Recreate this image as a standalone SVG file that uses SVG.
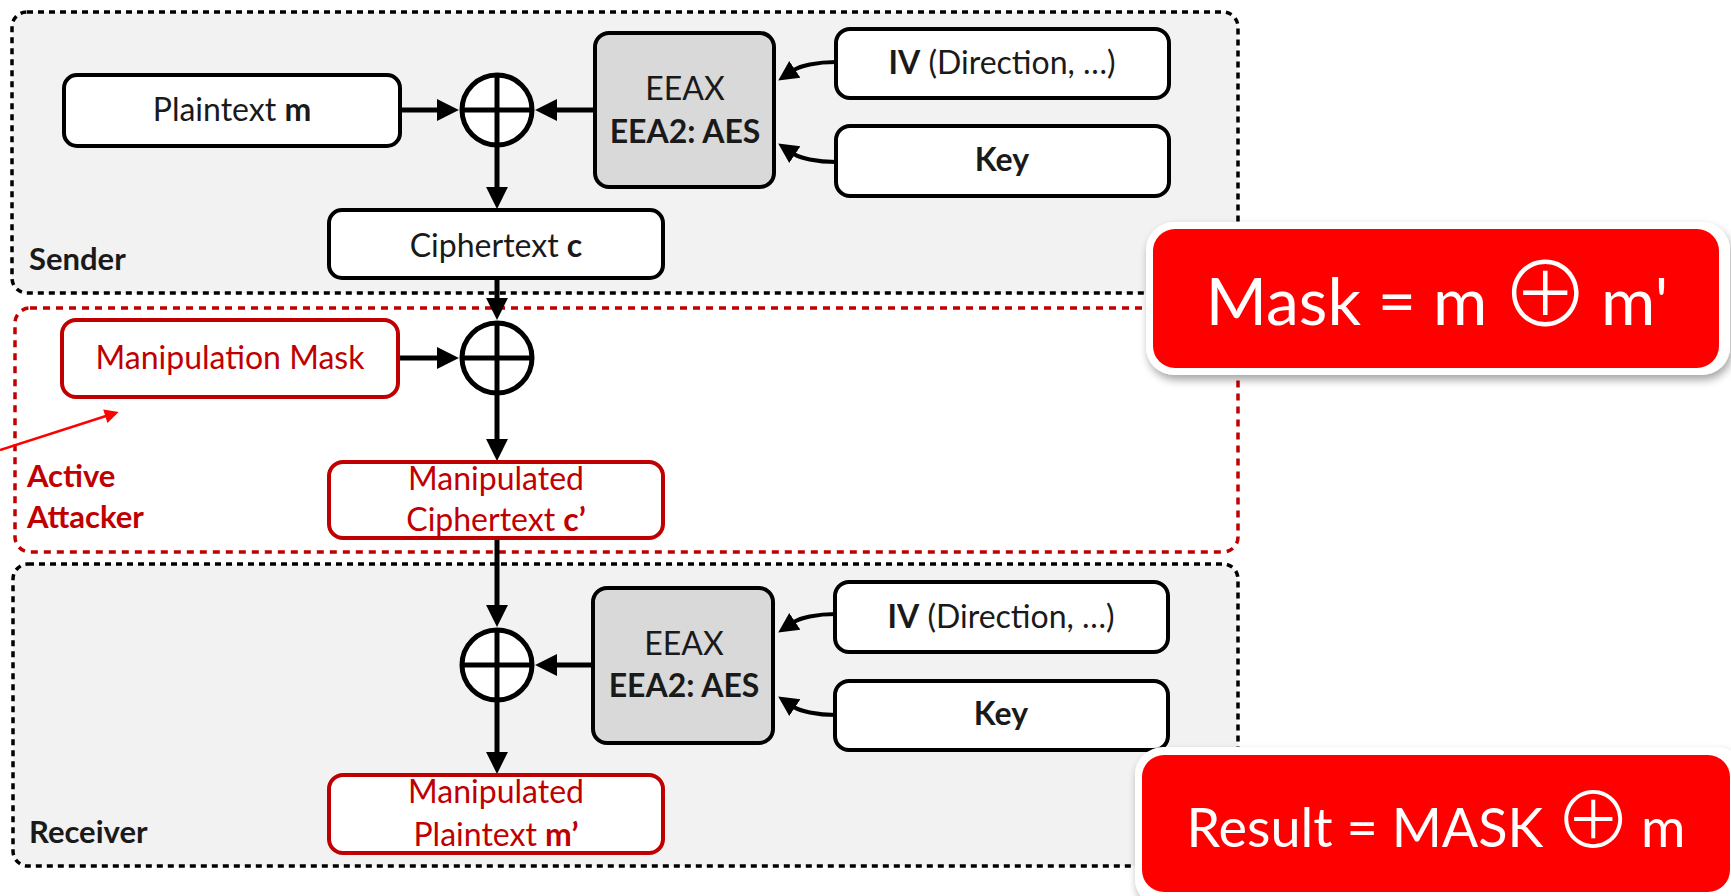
<svg xmlns="http://www.w3.org/2000/svg" width="1731" height="896" viewBox="0 0 1731 896">
  <style>
    text { font-family: Lato, "DejaVu Sans", sans-serif; fill: #1a1a1a; }
    .t { font-size: 32px; text-anchor: middle; }
    .b { font-weight: bold; }
    .lab { font-size: 31px; font-weight: bold; }
    .red { fill: #c00000; }
    .box { fill: #ffffff; stroke: #000000; stroke-width: 4; }
    .rbox { fill: #ffffff; stroke: #c00000; stroke-width: 4; }
    .alg { fill: #d9d9d9; stroke: #000000; stroke-width: 4; }
    .zone { fill: #f2f2f2; stroke: #000000; stroke-width: 3.5; stroke-dasharray: 6 5; }
    .zone-red { fill: #ffffff; stroke: #c00000; stroke-width: 3.5; stroke-dasharray: 7 6; }
    .xor { fill: #ffffff; stroke: #000000; stroke-width: 5; }
    .xl { stroke: #000000; stroke-width: 5; fill: none; }
    .wire { stroke: #000000; stroke-width: 5; fill: none; marker-end: url(#head); }
    .curve { stroke: #000000; stroke-width: 4; fill: none; marker-end: url(#head2); }
    .note { fill: #ff0000; }
    .note-text { fill: #ffffff; text-anchor: middle; }
    .sym { font-family: "Noto Sans CJK JP", "DejaVu Sans", sans-serif; font-weight: 300; fill: #ffffff; }
  </style>
  <defs>
    <marker id="head" viewBox="0 0 10 10" refX="0.5" refY="5" markerWidth="22" markerHeight="22" markerUnits="userSpaceOnUse" orient="auto">
      <path d="M0,0 L10,5 L0,10 z" fill="#000000"/>
    </marker>
    <marker id="head2" viewBox="0 0 10 10" refX="0.5" refY="5" markerWidth="20" markerHeight="22" markerUnits="userSpaceOnUse" orient="auto">
      <path d="M0,0 L10,5 L0,10 z" fill="#000000"/>
    </marker>
    <marker id="redhead" viewBox="0 0 10 10" refX="0.5" refY="5" markerWidth="18" markerHeight="14" markerUnits="userSpaceOnUse" orient="auto">
      <path d="M0,0 L10,5 L0,10 z" fill="#ff0000"/>
    </marker>
    <filter id="shadow" x="-10%" y="-20%" width="125%" height="150%">
      <feDropShadow dx="2" dy="5" stdDeviation="4" flood-color="#000000" flood-opacity="0.35"/>
    </filter>
  </defs>

  <!-- zones -->
  <g id="sender-zone">
    <rect class="zone" x="12" y="12" width="1226" height="281" rx="15"/>
    <text class="lab" x="29" y="270">Sender</text>
  </g>
  <g id="attacker-zone">
    <rect class="zone-red" x="15" y="308" width="1223" height="244" rx="15"/>
    <text class="lab red" x="27" y="487">Active</text>
    <text class="lab red" x="27" y="528">Attacker</text>
  </g>
  <g id="receiver-zone">
    <rect class="zone" x="13" y="564" width="1225" height="302" rx="15"/>
    <text class="lab" x="29" y="843">Receiver</text>
  </g>

  <!-- connectors -->
  <g id="connectors">
    <!-- sender -->
    <line class="wire" x1="400" y1="110" x2="438" y2="110"/>
    <line class="wire" x1="595" y1="110" x2="556" y2="110"/>
    <line class="wire" x1="497" y1="146" x2="497" y2="188"/>
    <path class="curve" d="M836,62 C816,62 800,66 794,70"/>
    <path class="curve" d="M836,162 C816,162 800,158 794,154"/>
    <!-- channel -->
    <line class="wire" x1="497" y1="278" x2="497" y2="299"/>
    <line class="wire" x1="398" y1="358" x2="438" y2="358"/>
    <line class="wire" x1="497" y1="394" x2="497" y2="440"/>
    <line class="wire" x1="497" y1="538" x2="497" y2="606"/>
    <!-- receiver -->
    <line class="wire" x1="593" y1="665" x2="556" y2="665"/>
    <line class="wire" x1="497" y1="701" x2="497" y2="753"/>
    <path class="curve" d="M836,614 C816,614 800,618 794,622"/>
    <path class="curve" d="M836,715 C816,715 800,711 794,707"/>
    <!-- pointer -->
    <line x1="0" y1="450" x2="106" y2="416" stroke="#ff0000" stroke-width="2.5" marker-end="url(#redhead)"/>
  </g>

  <!-- sender nodes -->
  <g id="plaintext">
    <rect class="box" x="64" y="75" width="336" height="71" rx="13"/>
    <text class="t" x="232" y="121">Plaintext <tspan class="b">m</tspan></text>
  </g>
  <g id="xor-sender">
    <circle class="xor" cx="497" cy="110" r="35"/>
    <line class="xl" x1="462" y1="110" x2="532" y2="110"/>
    <line class="xl" x1="497" y1="75" x2="497" y2="145"/>
  </g>
  <g id="cipher-sender">
    <rect class="alg" x="595" y="33" width="179" height="154" rx="14"/>
    <text class="t" x="685" y="100">EEAX</text>
    <text class="t b" x="685" y="143">EEA2: AES</text>
  </g>
  <g id="iv-sender">
    <rect class="box" x="836" y="29" width="333" height="69" rx="14"/>
    <text class="t" x="1002" y="74"><tspan class="b">IV</tspan> (Direction, …)</text>
  </g>
  <g id="key-sender">
    <rect class="box" x="836" y="126" width="333" height="70" rx="14"/>
    <text class="t b" x="1002" y="171">Key</text>
  </g>
  <g id="ciphertext">
    <rect class="box" x="329" y="210" width="334" height="68" rx="13"/>
    <text class="t" x="496" y="257">Ciphertext <tspan class="b">c</tspan></text>
  </g>

  <!-- attacker nodes -->
  <g id="mask">
    <rect class="rbox" x="62" y="320" width="336" height="77" rx="14"/>
    <text class="t red" x="230" y="369">Manipulation Mask</text>
  </g>
  <g id="xor-attacker">
    <circle class="xor" cx="497" cy="358" r="35"/>
    <line class="xl" x1="462" y1="358" x2="532" y2="358"/>
    <line class="xl" x1="497" y1="323" x2="497" y2="393"/>
  </g>
  <g id="manipulated-ciphertext">
    <rect class="rbox" x="329" y="462" width="334" height="76" rx="14"/>
    <text class="t red" x="496" y="490">Manipulated</text>
    <text class="t red" x="496" y="531">Ciphertext <tspan class="b">c’</tspan></text>
  </g>

  <!-- receiver nodes -->
  <g id="xor-receiver">
    <circle class="xor" cx="497" cy="665" r="35"/>
    <line class="xl" x1="462" y1="665" x2="532" y2="665"/>
    <line class="xl" x1="497" y1="630" x2="497" y2="700"/>
  </g>
  <g id="cipher-receiver">
    <rect class="alg" x="593" y="588" width="180" height="155" rx="14"/>
    <text class="t" x="684" y="655">EEAX</text>
    <text class="t b" x="684" y="697">EEA2: AES</text>
  </g>
  <g id="iv-receiver">
    <rect class="box" x="835" y="582" width="333" height="70" rx="14"/>
    <text class="t" x="1001" y="628"><tspan class="b">IV</tspan> (Direction, …)</text>
  </g>
  <g id="key-receiver">
    <rect class="box" x="835" y="681" width="333" height="69" rx="14"/>
    <text class="t b" x="1001" y="725">Key</text>
  </g>
  <g id="manipulated-plaintext">
    <rect class="rbox" x="329" y="775" width="334" height="78" rx="14"/>
    <text class="t red" x="496" y="803">Manipulated</text>
    <text class="t red" x="496" y="846">Plaintext <tspan class="b">m’</tspan></text>
  </g>

  <!-- formula notes -->
  <g id="note-mask">
    <rect x="1146" y="222" width="584" height="153" rx="28" fill="#ffffff" filter="url(#shadow)"/>
    <rect class="note" x="1153" y="229" width="566" height="139" rx="22"/>
    <text class="note-text" x="1437" y="325" style="font-size:66px">Mask = m <tspan class="sym" style="font-size:90px" dx="-4" dy="2">⊕</tspan><tspan dx="-6" dy="-2"> m'</tspan></text>
  </g>
  <g id="note-result">
    <rect x="1135" y="747" width="610" height="160" rx="28" fill="#ffffff" filter="url(#shadow)"/>
    <rect class="note" x="1142" y="755" width="588" height="137" rx="22"/>
    <text class="note-text" x="1436" y="847" style="font-size:54px">Result = MASK <tspan class="sym" style="font-size:78px" dx="-3" dy="2">⊕</tspan><tspan dx="-5" dy="-2"> m</tspan></text>
  </g>
</svg>
